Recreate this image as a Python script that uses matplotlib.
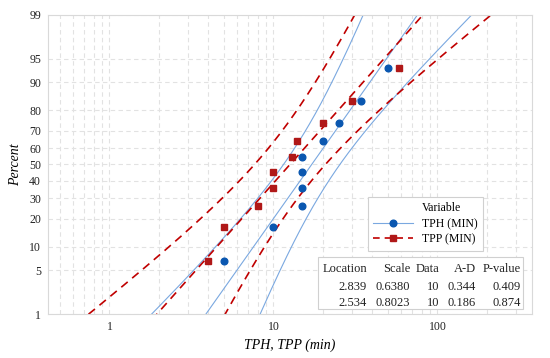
import numpy as np
import matplotlib
matplotlib.use("Agg")
import matplotlib.pyplot as plt
from matplotlib.lines import Line2D
from matplotlib.patches import Rectangle
from statistics import NormalDist

# valores (minutos)
tph = [5, 10, 15, 15, 15, 15, 20, 25, 34, 50]
tpp = [4, 5, 8, 10, 10, 13, 14, 20, 30, 58]
series_names = ["TPH (MIN)", "TPP (MIN)"]

# parámetros lognormales (tabla del gráfico)
location = [2.839, 2.534]
scale = [0.6380, 0.8023]
n_data = [10, 10]
ad = [0.344, 0.186]
pvalue = [0.409, 0.874]

pct_ticks = [1, 5, 10, 20, 30, 40, 50, 60, 70, 80, 90, 95, 99]

nd = NormalDist()
_ppf = np.vectorize(nd.inv_cdf, otypes=[float])
_cdf = np.vectorize(nd.cdf, otypes=[float])


def fwd(p):
    p = np.clip(np.asarray(p, dtype=float), 1e-6, 100 - 1e-6)
    return _ppf(p / 100.0)


def inv(z):
    return _cdf(np.asarray(z, dtype=float)) * 100.0


plt.rcParams['font.family'] = ['Liberation Serif', 'DejaVu Serif']

fig = plt.figure(figsize=(5.5, 3.58), dpi=100)
ax = fig.add_axes([0.0873, 0.1229, 0.8800, 0.8353])
ax.set_xscale('log')
ax.set_yscale('function', functions=(fwd, inv))

azul_lin = '#7aa8e0'
azul_pt = '#0a57b0'
rojo_lin = '#c00000'
rojo_pt = '#b01818'

p = np.linspace(0.3, 99.7, 400)
z = fwd(p)
estilos = [
    dict(color=azul_lin, lw=0.8, ls='-'),
    dict(color=rojo_lin, lw=1.2, ls=(0, (5, 3.5))),
]
for k in range(2):
    mu, s, n = location[k], scale[k], n_data[k]
    centro = mu + s * z
    se = s * np.sqrt(1.0 / n + z ** 2 / (2.0 * n))
    for curva in (centro, centro - 1.96 * se, centro + 1.96 * se):
        ax.plot(np.exp(curva), p, zorder=2, **estilos[k])

# posiciones (rango mediano de Benard)
for k, (datos, mk, col) in enumerate([(tph, 'o', azul_pt), (tpp, 's', rojo_pt)]):
    x = np.sort(np.array(datos, dtype=float))
    n = len(x)
    pp = (np.arange(1, n + 1) - 0.3) / (n + 0.4) * 100
    ax.plot(x, pp, ls='none', marker=mk, ms=4.8, color=col, zorder=3)

ax.set_xlim(0.422, 377)
ax.set_ylim(1, 99)
ax.set_yticks(pct_ticks)
ax.set_yticklabels([str(v) for v in pct_ticks])
ax.yaxis.set_minor_locator(matplotlib.ticker.NullLocator())
ax.set_xticks([1, 10, 100])
ax.set_xticklabels(['1', '10', '100'])
ax.tick_params(which='both', length=0, labelsize=8.5, colors='#222222', pad=5)

ax.grid(True, which='major', axis='both', color='#e2e2e2', ls=(0, (4, 3)), lw=0.8)
ax.grid(True, which='minor', axis='x', color='#e2e2e2', ls=(0, (4, 3)), lw=0.8)
ax.set_axisbelow(True)
for sp in ax.spines.values():
    sp.set_color('#d9d9d9')
    sp.set_linewidth(0.8)

ax.set_ylabel('Percent', fontsize=10, style='italic', labelpad=5)
ax.set_xlabel('TPH, TPP (min)', fontsize=10, style='italic', labelpad=4)

# leyenda
handles = [
    Line2D([], [], ls='none', marker='none'),
    Line2D([], [], color=azul_lin, lw=0.8, marker='o', ms=4.8,
           mfc=azul_pt, mec=azul_pt),
    Line2D([], [], color=rojo_lin, lw=1.2, ls=(0, (4, 3)), marker='s', ms=4.8,
           mfc=rojo_pt, mec=rojo_pt),
]
leg = ax.legend(handles, ['Variable'] + series_names, loc='upper left',
                bbox_to_anchor=(0.661, 0.391), borderaxespad=0, fontsize=8.5,
                handlelength=3.4, handletextpad=0.7, labelspacing=0.3,
                borderpad=0.45, fancybox=False, framealpha=1,
                edgecolor='#d0d0d0', numpoints=1)
leg.get_frame().set_linewidth(0.8)
leg.set_zorder(6)

# tabla de estadísticos
ax.add_patch(Rectangle((0.558, 0.0167), 0.423, 0.174, transform=ax.transAxes,
                       facecolor='white', edgecolor='#d0d0d0', lw=0.8, zorder=5))
col_x = [0.659, 0.748, 0.808, 0.884, 0.977]
fila_y = [0.1505, 0.0903, 0.037]
encab = ['Location', 'Scale', 'Data', 'A-D', 'P-value']
for j, t in enumerate(encab):
    ax.text(col_x[j], fila_y[0], t, transform=ax.transAxes, ha='right',
            va='center', fontsize=9, zorder=6, color='#222222')
for k in range(2):
    vals = [f'{location[k]:.3f}', f'{scale[k]:.4f}', f'{n_data[k]}',
            f'{ad[k]:.3f}', f'{pvalue[k]:.3f}']
    for j, t in enumerate(vals):
        ax.text(col_x[j], fila_y[k + 1], t, transform=ax.transAxes, ha='right',
                va='center', fontsize=9, zorder=6, color='#222222')

fig.savefig('out.png', dpi=100)
